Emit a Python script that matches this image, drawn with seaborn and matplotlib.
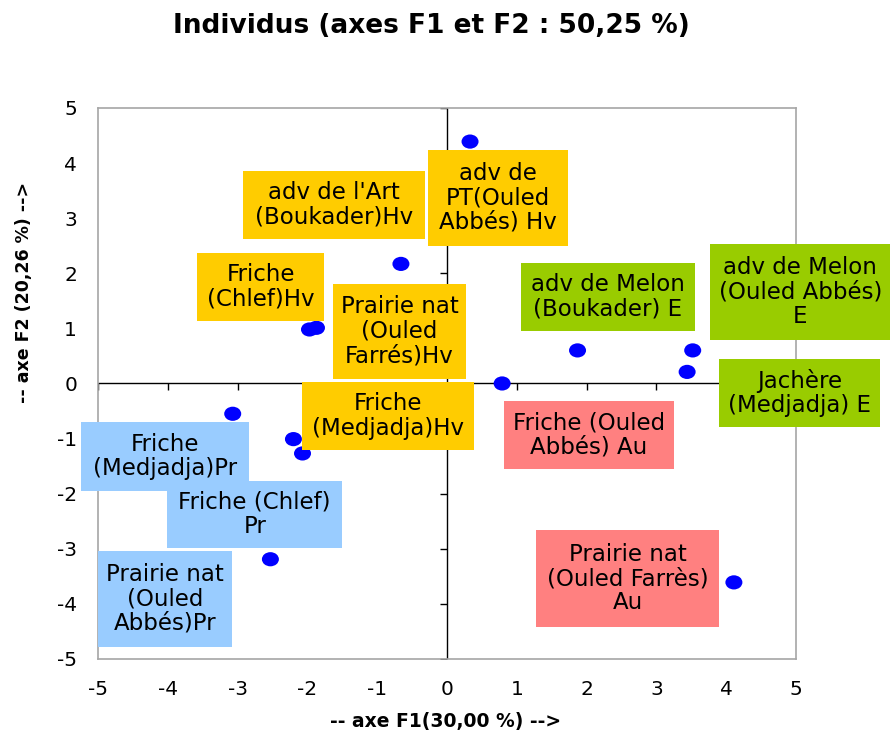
import matplotlib
matplotlib.use("Agg")
import matplotlib.pyplot as plt
from matplotlib.path import Path
from matplotlib.patches import Rectangle
import numpy as np
import pandas as pd
import seaborn as sns

sns.set_style("white")
plt.rcParams['font.family'] = ['DejaVu Sans']
plt.rcParams['axes.unicode_minus'] = False
plt.rcParams['text.color'] = 'black'
plt.rcParams['xtick.color'] = 'black'
plt.rcParams['ytick.color'] = 'black'
plt.rcParams['axes.labelcolor'] = 'black'

# -------------------------------------------------------------------
# Data (coordinates)
# -------------------------------------------------------------------
f1 = [0.33, -0.66, -1.97, -1.87, 1.87, 3.52, 3.44, 0.79, -3.07, -2.20, -2.07, -2.53, 4.11]
f2 = [4.39, 2.17, 0.98, 1.01, 0.60, 0.60, 0.21, 0.00, -0.55, -1.01, -1.27, -3.19, -3.61]

labels = [
    "adv de l'Art\n(Boukader)Hv",
    "adv de\nPT(Ouled\nAbbés) Hv",
    "Friche\n(Chlef)Hv",
    "Prairie nat\n(Ouled\nFarrés)Hv",
    "Friche\n(Medjadja)Hv",
    "adv de Melon\n(Boukader) E",
    "adv de Melon\n(Ouled Abbés)\nE",
    "Jachère\n(Medjadja) E",
    "Friche (Ouled\nAbbés) Au",
    "Prairie nat\n(Ouled Farrès)\nAu",
    "Friche\n(Medjadja)Pr",
    "Friche (Chlef)\nPr",
    "Prairie nat\n(Ouled\nAbbés)Pr",
]
groups = ["Hv", "Hv", "Hv", "Hv", "Hv", "E", "E", "E", "Au", "Au", "Pr", "Pr", "Pr"]

ticks = [-5, -4, -3, -2, -1, 0, 1, 2, 3, 4, 5]

title = "Individus (axes F1 et F2 : 50,25 %)"
xlab = "-- axe F1(30,00 %) -->"
ylab = "-- axe F2 (20,26 %) -->"

# layout: label boxes (x0, y0, x1, y1) in data units
boxes = [
    (-2.92, 2.62, -0.32, 3.86),
    (-0.27, 2.50, 1.73, 4.24),
    (-3.58, 1.13, -1.76, 2.37),
    (-1.63, 0.08, 0.27, 1.81),
    (-2.08, -1.21, 0.39, 0.03),
    (1.06, 0.95, 3.55, 2.19),
    (3.77, 0.79, 6.35, 2.53),
    (3.90, -0.79, 6.20, 0.44),
    (0.82, -1.55, 3.25, -0.32),
    (1.28, -4.42, 3.90, -2.66),
    (-5.24, -1.95, -2.84, -0.70),
    (-4.01, -2.99, -1.50, -1.77),
    (-5.00, -4.78, -3.08, -3.04),
]
group_colors = {"Hv": "#FFCC00", "E": "#99CC00", "Au": "#FF8080", "Pr": "#99CCFF"}

df = pd.DataFrame({"F1": f1, "F2": f2})

# -------------------------------------------------------------------
# Plot
# -------------------------------------------------------------------
fig = plt.figure(figsize=(8.9, 7.4), dpi=100)
ax = fig.add_axes([0.1101, 0.1095, 0.7843, 0.7446])

# slightly flattened dot, like the Excel marker
circ = Path.unit_circle()
ellipse = Path(circ.vertices * np.array([1.2, 1.0]), circ.codes)

# zero axes with their tick marks
ax.axhline(0, color="black", lw=1, zorder=1)
ax.axvline(0, color="black", lw=1, zorder=1)
ax.plot(ticks, [0] * len(ticks), ls="none", marker=3, ms=5, mew=1, color="black", zorder=1)
ax.plot([0] * len(ticks), ticks, ls="none", marker=0, ms=5, mew=1, color="black", zorder=1)

sns.scatterplot(data=df, x="F1", y="F2", marker=ellipse, s=150, color="#0000FF",
                edgecolor="none", zorder=2, ax=ax)

for lab, grp, (x0, y0, x1, y1) in zip(labels, groups, boxes):
    ax.add_patch(Rectangle((x0, y0), x1 - x0, y1 - y0, facecolor=group_colors[grp],
                           edgecolor="none", zorder=3, clip_on=False))
    ax.text((x0 + x1) / 2, (y0 + y1) / 2, lab, ha="center", va="center",
            fontsize=16.5, linespacing=1.08, zorder=4, clip_on=False)

ax.set_xlim(-5, 5)
ax.set_ylim(-5, 5)
ax.set_xticks(ticks)
ax.set_yticks(ticks)
ax.tick_params(length=0, labelsize=14.5, pad=15)

for sp in ax.spines.values():
    sp.set_color("#A6A6A6")
    sp.set_linewidth(1.2)

ax.set_xlabel(xlab, fontsize=13.5, fontweight="bold")
ax.set_ylabel(ylab, fontsize=12.5, fontweight="bold")
ax.xaxis.label.set_va("center")
ax.yaxis.label.set_va("center")
ax.xaxis.set_label_coords(0.4986, -0.114)
ax.yaxis.set_label_coords(-0.106, 0.666)

fig.text(431 / 890, 1 - 26 / 740, title, ha="center", va="center",
         fontsize=19, fontweight="bold")

fig.savefig("out.png", dpi=100)
